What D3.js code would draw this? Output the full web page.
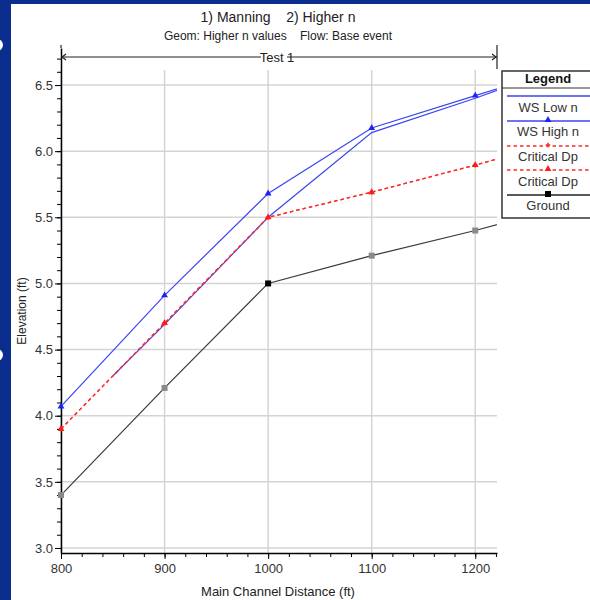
<!DOCTYPE html>
<html>
<head>
	<meta charset="utf-8">
	<title></title>
	<style type="text/css">
*{
	margin: 0;
	padding: 0;
}
html,body{
	width: 590px;
	height: 600px;
	background: #0b2d8e;
	overflow: hidden;
}
svg{
	display: block;
	font-family: "Liberation Sans", Arial, sans-serif;
}
	</style>
</head>
<body>
	<script src="https://cdn.jsdelivr.net/npm/d3@7"></script>
	<script>
		// data (distance ft, elevation ft)
		var wsHighN = [[800,4.07],[900,4.91],[1000,5.68],[1100,6.175],[1200,6.42],[1300,6.66]];
		var wsLowN = [[850,4.30],[900,4.69],[1000,5.50],[1100,6.14],[1200,6.40],[1300,6.68]];
		var critDp1 = [[800,3.90],[900,4.70],[1000,5.50],[1100,5.69],[1200,5.895],[1300,6.11]];
		var critDp2 = [[800,3.90],[900,4.70],[1000,5.50],[1100,5.69],[1200,5.895],[1300,6.11]];
		var ground = [[800,3.40],[900,4.21],[1000,5.00],[1100,5.21],[1200,5.40],[1300,5.61]];
		var groundDark = [1000];

		var xTicks = [800,900,1000,1100,1200];
		var yTicks = [3.0,3.5,4.0,4.5,5.0,5.5,6.0,6.5];
		var legendNames = ["WS Low n","WS High n","Critical Dp","Critical Dp","Ground"];

		var width = 590;
		var height = 600;
		var margin = ({top:48, right:93, bottom:47, left:61})

		const svg = d3.select("body").append("svg")
			.attr("width", width)
			.attr("height", height);

		// white panel on the blue slide
		svg.append("rect")
			.attr("x",11).attr("y",4)
			.attr("width",width).attr("height",height)
			.attr("fill","#fff");
		svg.append("g").attr("fill","#fff")
			.selectAll("circle").data([45,355]).join("circle")
			.attr("cx",-3).attr("cy",d=>d).attr("r",6);

		var x = d3.scaleLinear()
				.domain([800,1221])
				.range([margin.left,width-margin.right])

		var y = d3.scaleLinear()
				.domain([2.962,6.78])
				.range([height-margin.bottom,margin.top])

		// grid
		svg.append("g")
			.attr("stroke","#d4d4d4").attr("stroke-width",1.5)
			.selectAll("line").data(yTicks).join("line")
			.attr("x1",x(800)).attr("x2",x(1221))
			.attr("y1",d=>y(d)).attr("y2",d=>y(d));
		svg.append("g")
			.attr("stroke","#d4d4d4").attr("stroke-width",1.5)
			.selectAll("line").data(xTicks).join("line")
			.attr("x1",d=>x(d)).attr("x2",d=>x(d))
			.attr("y1",70).attr("y2",y(2.962));

		// axes: minor + major ticks
		var xMinor = d3.range(800,1221,20);
		var yMinor = d3.range(30,68).map(d=>d/10);

		svg.append("g")
			.attr("transform",`translate(0,${height-margin.bottom})`)
			.call(d3.axisBottom(x).tickValues(xMinor).tickSize(4).tickFormat("").tickSizeOuter(0))
			.call(g=>g.select(".domain").remove());
		const xAxis = svg.append("g")
			.attr("transform",`translate(0,${height-margin.bottom})`)
			.call(d3.axisBottom(x).tickValues(xTicks).tickSize(6).tickSizeOuter(0).tickPadding(5).tickFormat(d3.format("d")));
		xAxis.select(".domain").attr("stroke-width",1.5);
		xAxis.selectAll("text").attr("font-size",13).attr("fill","#333").attr("font-family","Liberation Sans, Arial");

		svg.append("g")
			.attr("transform",`translate(${margin.left},0)`)
			.call(d3.axisLeft(y).tickValues(yMinor).tickSize(4).tickFormat("").tickSizeOuter(0))
			.call(g=>g.select(".domain").remove());
		const yAxis = svg.append("g")
			.attr("transform",`translate(${margin.left},0)`)
			.call(d3.axisLeft(y).tickValues(yTicks).tickSize(6).tickSizeOuter(0).tickPadding(2).tickFormat(d3.format(".1f")));
		yAxis.select(".domain").attr("stroke-width",1.5);
		yAxis.selectAll("text").attr("font-size",13).attr("fill","#333").attr("font-family","Liberation Sans, Arial");

		// series
		svg.append("clipPath").attr("id","clip")
			.append("rect")
			.attr("x",x(800)-6).attr("y",margin.top)
			.attr("width",x(1221)-x(800)+6).attr("height",y(2.962)-margin.top);

		var line = d3.line().x(d=>x(d[0])).y(d=>y(d[1]));
		const plot = svg.append("g").attr("clip-path","url(#clip)");

		function series(data, color, dash, width){
			plot.append("path")
				.datum(data)
				.attr("fill","none")
				.attr("stroke",color)
				.attr("stroke-width",width)
				.attr("stroke-dasharray",dash)
				.attr("d",line);
		}
		var tri = d3.symbol().type(d3.symbolTriangle).size(20);
		var sq = d3.symbol().type(d3.symbolSquare).size(36);
		var cross = d3.symbol().type(d3.symbolCross).size(12);

		series(ground,"#3a3a3a",null,1.2);
		series(wsLowN,"#3a46f0",null,1.2);
		series(wsHighN,"#3a46f0",null,1.2);
		series(critDp1,"#ff2a2a","3.5,3",1.3);
		series(critDp2,"#ff2a2a","3.5,3",1.3);

		plot.append("g").selectAll("path").data(ground).join("path")
			.attr("transform",d=>`translate(${x(d[0])},${y(d[1])})`)
			.attr("d",sq)
			.attr("fill",d=>groundDark.includes(d[0]) ? "#000" : "#8a8a8a");
		plot.append("g").selectAll("path").data(critDp1).join("path")
			.attr("transform",d=>`translate(${x(d[0])},${y(d[1])})`)
			.attr("d",cross).attr("fill","#ff2a2a");
		plot.append("g").selectAll("path").data(critDp2).join("path")
			.attr("transform",d=>`translate(${x(d[0])},${y(d[1])})`)
			.attr("d",tri).attr("fill","#ff1a1a");
		plot.append("g").selectAll("path").data(wsHighN).join("path")
			.attr("transform",d=>`translate(${x(d[0])},${y(d[1])})`)
			.attr("d",tri).attr("fill","#1a22ff");

		// titles
		svg.append("text")
			.attr("x",278).attr("y",22)
			.attr("text-anchor","middle").attr("font-size",14).attr("fill","#222")
			.attr("xml:space","preserve")
			.text("1) Manning    2) Higher n");
		svg.append("text")
			.attr("x",278).attr("y",40)
			.attr("text-anchor","middle").attr("font-size",12).attr("fill","#222")
			.attr("xml:space","preserve")
			.text("Geom: Higher n values    Flow: Base event");

		// Test 1 reach bracket
		const br = svg.append("g").attr("stroke","#222").attr("stroke-width",1.2).attr("fill","none");
		br.append("line").attr("x1",x(800)).attr("x2",x(800)).attr("y1",45).attr("y2",margin.top);
		br.append("line").attr("x1",x(1221)).attr("x2",x(1221)).attr("y1",45).attr("y2",69);
		br.append("line").attr("x1",x(800)).attr("x2",261).attr("y1",57).attr("y2",57);
		br.append("line").attr("x1",287).attr("x2",x(1221)).attr("y1",57).attr("y2",57);
		br.append("path").attr("d",`M${x(800)+5},54 L${x(800)+1},57 L${x(800)+5},60`);
		br.append("path").attr("d",`M${x(1221)-5},54 L${x(1221)-1},57 L${x(1221)-5},60`);
		svg.append("text")
			.attr("x",277).attr("y",62)
			.attr("text-anchor","middle").attr("font-size",13).attr("fill","#222")
			.text("Test 1");

		// axis titles
		svg.append("text")
			.attr("transform","translate(26,311) rotate(-90)")
			.attr("text-anchor","middle").attr("font-size",12).attr("fill","#222")
			.text("Elevation (ft)");
		svg.append("text")
			.attr("x",278).attr("y",596)
			.attr("text-anchor","middle").attr("font-size",13).attr("fill","#222")
			.text("Main Channel Distance (ft)");

		// legend
		const lg = svg.append("g");
		lg.append("rect")
			.attr("x",502).attr("y",71).attr("width",100).attr("height",147)
			.attr("fill","#fff").attr("stroke","#333").attr("stroke-width",1.5);
		lg.append("line").attr("x1",502).attr("x2",590).attr("y1",88).attr("y2",88)
			.attr("stroke","#333").attr("stroke-width",1.2);
		lg.append("text").attr("x",548).attr("y",83)
			.attr("text-anchor","middle").attr("font-size",13).attr("font-weight","bold").attr("fill","#111")
			.text("Legend");

		var lineY = [96,121,146,170,195];
		var textY = [112,136,161,186,210];
		var lgStroke = ["#3a46f0","#3a46f0","#ff2a2a","#ff2a2a","#222"];
		var lgDash = [null,null,"3.5,3","3.5,3",null];
		var lgMark = [null,tri,cross,tri,sq];
		var lgFill = [null,"#1a22ff","#ff2a2a","#ff1a1a","#000"];

		legendNames.forEach((name,i)=>{
			lg.append("line").attr("x1",507).attr("x2",590)
				.attr("y1",lineY[i]).attr("y2",lineY[i])
				.attr("stroke",lgStroke[i]).attr("stroke-width",1.3)
				.attr("stroke-dasharray",lgDash[i]);
			if(lgMark[i]){
				lg.append("path").attr("d",lgMark[i])
					.attr("transform",`translate(548,${lineY[i]-1})`)
					.attr("fill",lgFill[i]);
			}
			lg.append("text").attr("x",548).attr("y",textY[i])
				.attr("text-anchor","middle").attr("font-size",13).attr("fill","#333")
				.text(name);
		});
	</script>
</body>
</html>
